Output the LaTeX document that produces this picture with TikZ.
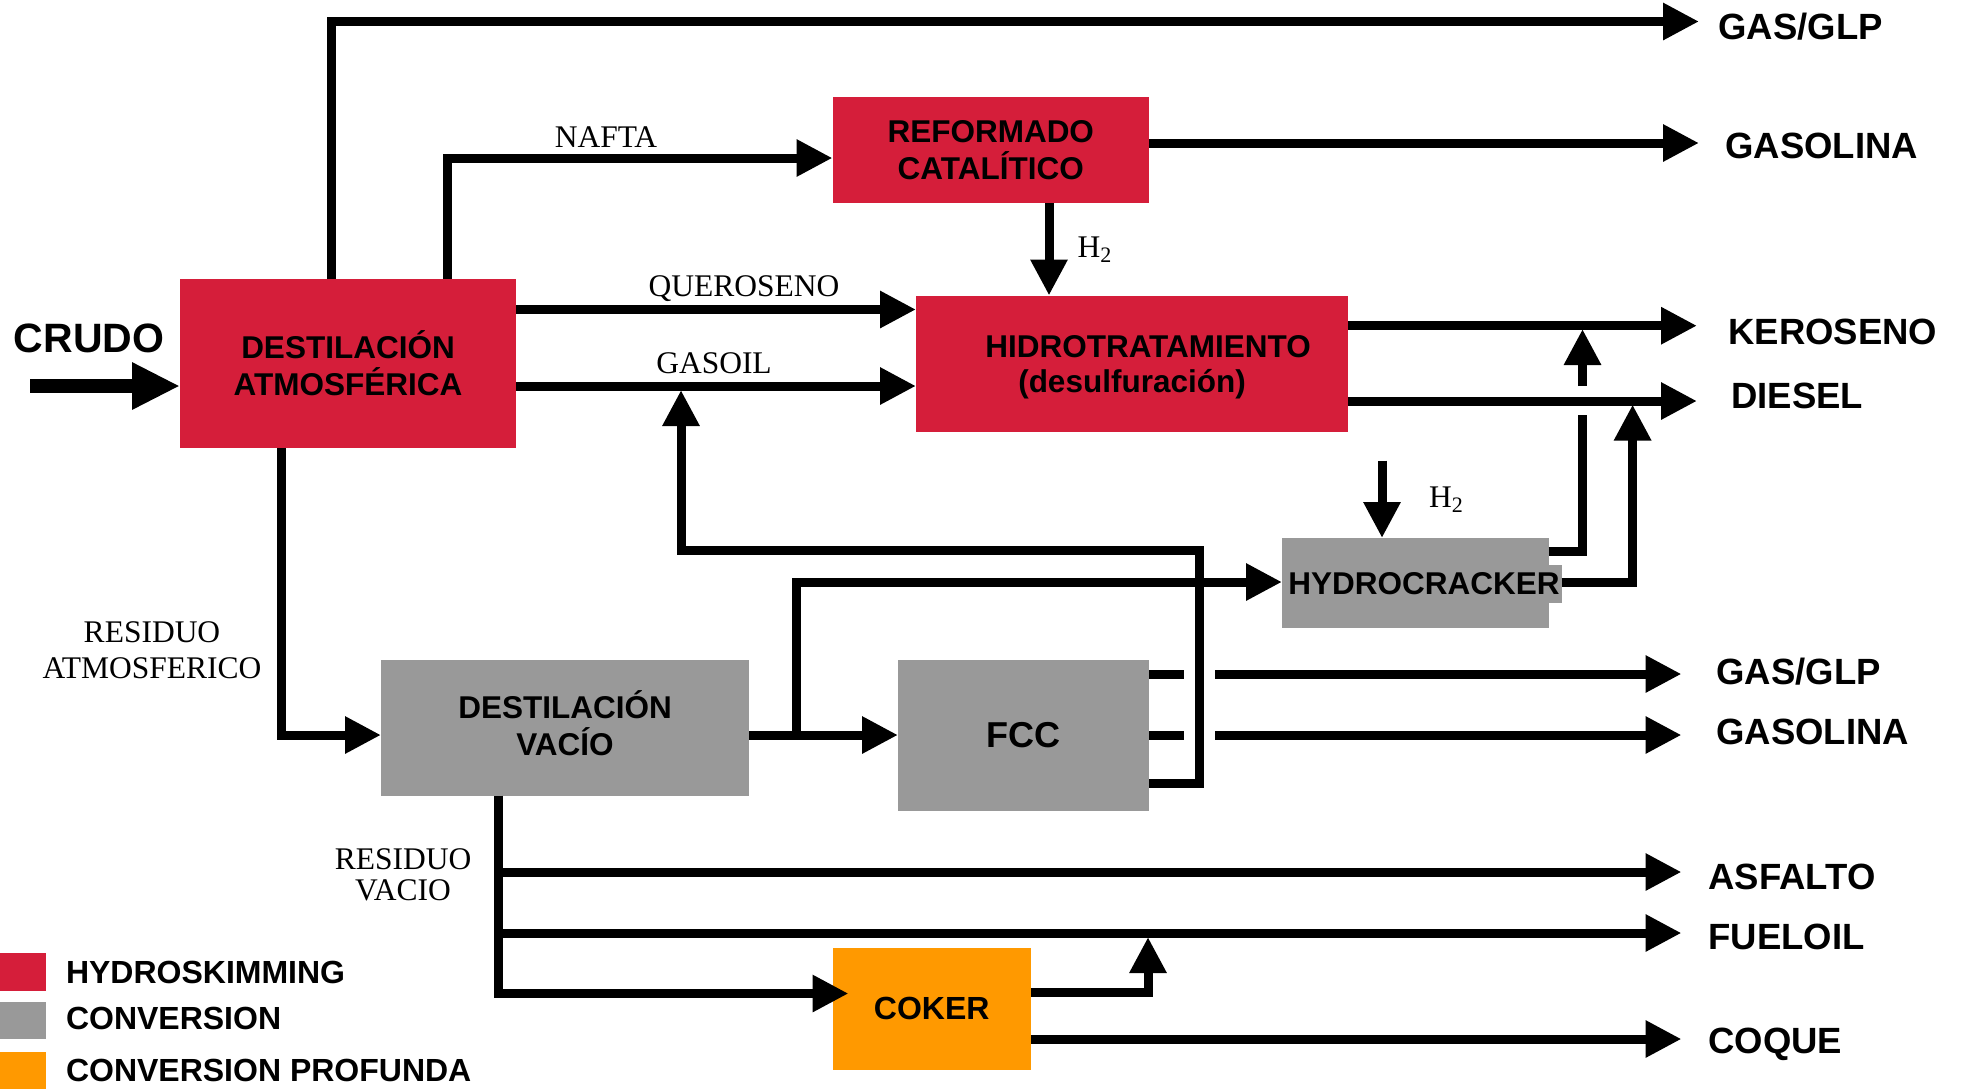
\documentclass[tikz,border=0pt]{standalone}
\usepackage{fontspec}
\setmainfont{Liberation Serif}
\setsansfont{Liberation Sans}
\usetikzlibrary{arrows.meta,calc}
\definecolor{hsred}{RGB}{213,30,58}
\definecolor{cvgray}{RGB}{153,153,153}
\definecolor{cporange}{RGB}{255,153,0}
\begin{document}
\begin{tikzpicture}[x=0.5pt,y=-0.5pt,
  unit/.style={draw=none,inner sep=0pt,outer sep=0pt,align=center,font=\sffamily\bfseries\fontsize{15.75}{18.5}\selectfont},
  redbox/.style={unit,fill=hsred},
  graybox/.style={unit,fill=cvgray},
  orangebox/.style={unit,fill=cporange},
  flow/.style={line width=4.5pt,-{Triangle[length=18pt,width=17.5pt]}},
  crudoflow/.style={line width=7pt,-{Triangle[length=24pt,width=22pt]}},
  pipe/.style={line width=4.5pt},
  outlabel/.style={anchor=west,inner sep=0pt,font=\sffamily\bfseries\fontsize{18.25}{20}\selectfont},
  streamlabel/.style={inner sep=0pt,align=center,font=\rmfamily\fontsize{15.75}{18}\selectfont},
  legendtext/.style={anchor=west,inner sep=0pt,font=\sffamily\bfseries\fontsize{16}{18}\selectfont},
  legendbox/.style={inner sep=0pt,outer sep=0pt,anchor=north west,minimum width=22.8pt}
]
\useasboundingbox (0,0) rectangle (1962,1089);

% units
\node[redbox,minimum width=168pt,minimum height=84.5pt,text depth=-5pt] (atm) at (348,363.5) {DESTILACIÓN\\ATMOSFÉRICA};
\node[redbox,minimum width=158.25pt,minimum height=53pt,text depth=-2.5pt] (ref) at (990.75,150) {REFORMADO\\CATALÍTICO};
\node[redbox,minimum width=216pt,minimum height=68.25pt,font=\sffamily\bfseries\fontsize{15.75}{17.5}\selectfont,text depth=-4pt] (hdt) at (1132,363.75) {\hspace*{16pt}HIDROTRATAMIENTO\\(desulfuración)};
\node[graybox,minimum width=133.35pt,minimum height=45pt] (hc) at (1415.35,583) {};
\node[graybox,inner xsep=1pt,minimum height=19pt] (hclabel) at (1424,584) {HYDROCRACKER};
\node[graybox,minimum width=125.5pt,minimum height=75.95pt,font=\sffamily\bfseries\fontsize{18}{20}\selectfont] (fcc) at (1023.5,735.45) {FCC};
\node[graybox,minimum width=184pt,minimum height=68pt,text depth=4pt] (vac) at (565,727.5) {DESTILACIÓN\\VACÍO};
\node[orangebox,minimum width=99.25pt,minimum height=60.75pt,font=\sffamily\bfseries\fontsize{16}{18}\selectfont] (coker) at (931.75,1008.75) {COKER};

% helper coordinates
\coordinate (xGas) at (331,0);
\coordinate (xNaf) at (447.5,0);
\coordinate (yNaf) at (0,158);
\coordinate (yGasol) at (0,143);
\coordinate (xH2a) at (1049,0);
\coordinate (yQue) at (0,309.5);
\coordinate (yGo) at (0,386);
\coordinate (yKer) at (0,325.7);
\coordinate (yDie) at (0,401);
\coordinate (xRes) at (281,0);
\coordinate (yVac) at (0,735);
\coordinate (jHc) at (796,735);
\coordinate (yHc) at (0,582);
\coordinate (h2b) at (1382,460.6);
\coordinate (xH2b) at (1382,0);
\coordinate (yHk) at (0,551);
\coordinate (kerLow) at (1582.5,415);
\coordinate (kerHigh) at (1582.5,386);
\coordinate (kerTip) at (1582.5,329);
\coordinate (dieTip) at (1632.6,404.5);
\coordinate (yRec) at (0,783);
\coordinate (recCorner) at (1199,550);
\coordinate (goTip) at (681,390);
\coordinate (yFg) at (0,674);
\coordinate (stubG) at (1183.5,674);
\coordinate (restG) at (1215,674);
\coordinate (stubS) at (1183.5,735);
\coordinate (restS) at (1215,735);
\coordinate (xVr) at (498,0);
\coordinate (yCok) at (0,993.5);
\coordinate (jAsf) at (498,872);
\coordinate (jFue) at (498,933);
\coordinate (yCkf) at (0,992.5);
\coordinate (fueTip) at (1148,937);
\coordinate (yCoq) at (0,1039);
\coordinate (crudoStart) at (30,386);
\coordinate (oGas) at (1699,21.5);
\coordinate (oGasol) at (1699,143);
\coordinate (oKer) at (1697,325.7);
\coordinate (oDie) at (1697,401);
\coordinate (oFg) at (1681.5,674);
\coordinate (oFs) at (1681.5,735);
\coordinate (oAsf) at (1681.5,872);
\coordinate (oFue) at (1681.5,933);
\coordinate (oCoq) at (1681.5,1039);

% connectors
\draw[crudoflow] (crudoStart) -- (atm.west |- yGo);
\draw[flow] (atm.north -| xGas) |- (oGas);
\draw[flow] (atm.north -| xNaf) |- (ref.west |- yNaf);
\draw[flow] (ref.east |- yGasol) -- (oGasol);
\draw[flow] (ref.south -| xH2a) -- (hdt.north -| xH2a);
\draw[flow] (atm.east |- yQue) -- (hdt.west |- yQue);
\draw[flow] (atm.east |- yGo) -- (hdt.west |- yGo);
\draw[flow] (hdt.east |- yKer) -- (oKer);
\draw[flow] (hdt.east |- yDie) -- (oDie);
\draw[flow] (atm.south -| xRes) |- (vac.west |- yVac);
\draw[flow] (vac.east |- yVac) -- (fcc.west |- yVac);
\draw[flow] (jHc) |- (hc.west |- yHc);
\draw[flow] (h2b) -- (hc.north -| xH2b);
\draw[pipe] (hc.east |- yHk) -| (kerLow);
\draw[flow] (kerHigh) -- (kerTip);
\draw[flow] (hclabel.east |- yHc) -| (dieTip);
\draw[flow] (fcc.east |- yRec) -| (recCorner) -| (goTip);
\draw[pipe] (fcc.east |- yFg) -- (stubG);
\draw[flow] (restG) -- (oFg);
\draw[pipe] (fcc.east |- yVac) -- (stubS);
\draw[flow] (restS) -- (oFs);
\draw[flow,shorten >=-8pt] (vac.south -| xVr) |- (coker.west |- yCok);
\draw[flow] (jAsf) -- (oAsf);
\draw[flow] (jFue) -- (oFue);
\draw[flow] (coker.east |- yCkf) -| (fueTip);
\draw[flow] (coker.east |- yCoq) -- (oCoq);

% stream labels
\node[inner sep=0pt,font=\sffamily\bfseries\fontsize{20.5}{24}\selectfont] (crudo) at (89,338) {CRUDO};
\node[streamlabel] (lnafta) at (606,137) {NAFTA};
\node[streamlabel] (lque) at (744,288.5) {QUEROSENO};
\node[streamlabel] (lgo) at (714,363) {GASOIL};
\node[streamlabel] (lh2a) at (1095,250) {H\textsubscript{2}};
\node[streamlabel] (lh2b) at (1446.6,500) {H\textsubscript{2}};
\node[streamlabel] (lra) at (152,650.5) {RESIDUO\\ATMOSFERICO};
\node[streamlabel,font=\rmfamily\fontsize{15.75}{15.5}\selectfont] (lrv) at (403,875) {RESIDUO\\VACIO};

% product labels
\node[outlabel] (pGas) at (1718,27) {GAS/GLP};
\node[outlabel] (pGasol) at (1725,146) {GASOLINA};
\node[outlabel] (pKer) at (1728,332) {KEROSENO};
\node[outlabel] (pDie) at (1731,396) {DIESEL};
\node[outlabel] (pFg) at (1716,672) {GAS/GLP};
\node[outlabel] (pFs) at (1716,732) {GASOLINA};
\node[outlabel] (pAsf) at (1708,877) {ASFALTO};
\node[outlabel] (pFue) at (1708,937) {FUELOIL};
\node[outlabel] (pCoq) at (1708,1044.5) {COQUE};

% legend
\node[legendbox,fill=hsred,minimum height=19pt] (lg1) at (0,953) {};
\node[legendbox,fill=cvgray,minimum height=18.5pt] (lg2) at (0,1002) {};
\node[legendbox,fill=cporange,minimum height=18.5pt] (lg3) at (0,1052) {};
\node[legendtext] (lt1) at (65.6,972) {HYDROSKIMMING};
\node[legendtext] (lt2) at (65.6,1018.5) {CONVERSION};
\node[legendtext] (lt3) at (65.6,1070.5) {CONVERSION PROFUNDA};
\end{tikzpicture}
\end{document}
